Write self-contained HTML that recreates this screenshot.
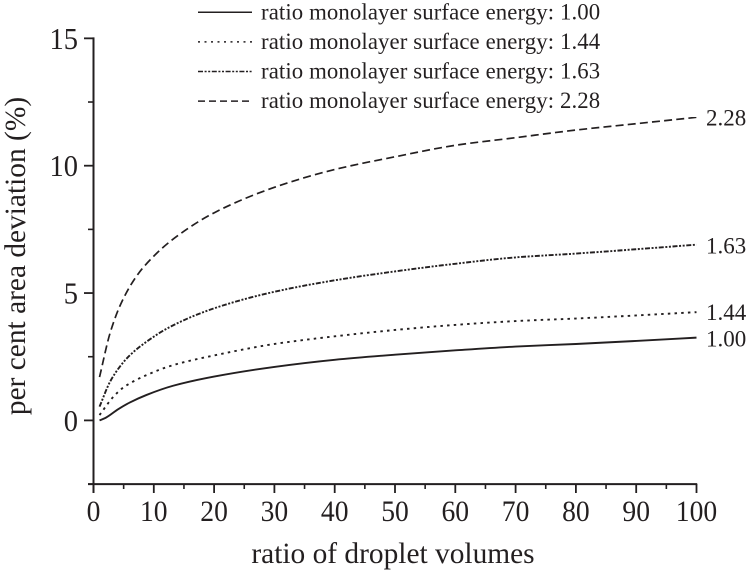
<!DOCTYPE html>
<html>
<head>
<meta charset="utf-8">
<style>
html,body{margin:0;padding:0;background:#fff;}
svg{display:block;}
text{font-family:"Liberation Serif",serif;fill:#231f20;}
</style>
</head>
<body>
<svg id="chart" width="747" height="570" viewBox="0 0 747 570" xmlns="http://www.w3.org/2000/svg"></svg>
<script>
const xTickLabels = [0, 10, 20, 30, 40, 50, 60, 70, 80, 90, 100];
const xMinorTicks = [5, 15, 25, 35, 45, 55, 65, 75, 85, 95];
const yTickLabels = [0, 5, 10, 15];
const yMinorTicks = [-2.5, 2.5, 7.5, 12.5];
const seriesNames = ['1.00', '1.44', '1.63', '2.28'];
const xSeries100 = [1, 2, 4.1, 6, 8.8, 13.2, 20, 30, 40, 50, 60, 70, 80, 90, 100];
const values100 = [0, 0.1, 0.44, 0.7, 1.0, 1.36, 1.72, 2.1, 2.38, 2.58, 2.75, 2.9, 3.0, 3.12, 3.25];
const xSeries144 = [1, 3.3, 5, 8.8, 13.2, 20, 30, 40, 50, 60, 70, 80, 90, 100];
const values144 = [0.21, 0.93, 1.3, 1.78, 2.17, 2.55, 3.0, 3.3, 3.55, 3.75, 3.9, 4.0, 4.12, 4.25];
const xSeries163 = [1, 2.75, 4.4, 6, 8.8, 12.6, 20, 30, 40, 50, 60, 70, 80, 90, 100];
const values163 = [0.54, 1.52, 2.12, 2.55, 3.09, 3.66, 4.4, 5.05, 5.5, 5.85, 6.15, 6.4, 6.55, 6.72, 6.9];
const xSeries228 = [1, 2.75, 4.7, 7.4, 10, 13, 20, 30, 40, 50, 60, 70, 80, 90, 100];
const values228 = [1.7, 3.43, 4.66, 5.75, 6.45, 7.08, 8.15, 9.15, 9.85, 10.35, 10.8, 11.1, 11.4, 11.65, 11.9];

const svg = document.getElementById('chart');
const NS = 'http://www.w3.org/2000/svg';
const ink = '#231f20';
const xScale = v => 93.5 + v * 6.03;
const yScale = v => 420.4 - v * 25.47;

function make(tag, attrs, text) {
  const el = document.createElementNS(NS, tag);
  for (const k in attrs) el.setAttribute(k, attrs[k]);
  if (text !== undefined) el.textContent = text;
  svg.appendChild(el);
  return el;
}
function rule(x1, y1, x2, y2, w) {
  return make('line', {x1, y1, x2, y2, stroke: ink, 'stroke-width': w});
}
// Monotone cubic interpolation with harmonic-mean tangents
function smoothPath(xs, ys) {
  const p = xs.map((x, i) => [xScale(x), yScale(ys[i])]);
  const n = p.length;
  const h = [], s = [];
  for (let i = 0; i < n - 1; i++) {
    h[i] = p[i + 1][0] - p[i][0];
    s[i] = (p[i + 1][1] - p[i][1]) / h[i];
  }
  const m = [s[0]];
  for (let i = 1; i < n - 1; i++) {
    if (s[i - 1] * s[i] <= 0) { m[i] = 0; continue; }
    const w1 = 2 * h[i] + h[i - 1], w2 = h[i] + 2 * h[i - 1];
    m[i] = (w1 + w2) / (w1 / s[i - 1] + w2 / s[i]);
  }
  m[n - 1] = s[n - 2];
  let d = 'M' + p[0][0].toFixed(2) + ' ' + p[0][1].toFixed(2);
  for (let i = 0; i < n - 1; i++) {
    const c = [p[i][0] + h[i] / 3, p[i][1] + m[i] * h[i] / 3,
               p[i + 1][0] - h[i] / 3, p[i + 1][1] - m[i + 1] * h[i] / 3,
               p[i + 1][0], p[i + 1][1]];
    d += 'C' + c.map(v => v.toFixed(2)).join(' ');
  }
  return d;
}

// Axes
const yAxisLine = rule(xScale(0), yScale(15) - 1, xScale(0), 493, 2);


const xAxisLine = rule(88, yScale(-2.5), xScale(100) + 0.7, yScale(-2.5), 2);



xTickLabels.forEach(v => {
  const t = rule(xScale(v), 484, xScale(v), 493, 1.8);
  
  
  const l = make('text', {transform: 'translate(' + xScale(v) + ' 521) scale(0.92 1)', 'text-anchor': 'middle', 'font-size': 30}, String(v));
  
  
});
xMinorTicks.forEach(v => {
  const t = rule(xScale(v), 484, xScale(v), 489, 1.6);
  
  
});
yTickLabels.forEach(v => {
  const t = rule(84, yScale(v), xScale(0), yScale(v), 1.8);
  
  
  const l = make('text', {transform: 'translate(78 ' + (yScale(v) + 10.5) + ') scale(0.92 1)', 'text-anchor': 'end', 'font-size': 31}, String(v));
  
  
});
yMinorTicks.forEach(v => {
  const t = rule(88, yScale(v), xScale(0), yScale(v), 1.6);
  
  
});

// Axis titles
const xTitle = make('text', {x: 393, y: 563, 'text-anchor': 'middle', 'font-size': 29.4}, 'ratio of droplet volumes');


const yTitle = make('text', {x: 0, y: 0, transform: 'translate(25 256) rotate(-90)', 'text-anchor': 'middle', 'font-size': 29.4}, 'per cent area deviation (%)');



// Series
const seriesX = [xSeries100, xSeries144, xSeries163, xSeries228];
const seriesY = [values100, values144, values163, values228];
const dashes = ['none', '2.5 4.2', '5 1.6 2 1.6 2 1.6', '8 4.2'];
const legendDashes = ['none', '2 4.5', '5 1.6 2 1.6 2 1.6', '7 4'];
const swatchEnd = [252, 252, 252, 250];
const widths = [1.9, 1.9, 1.9, 1.7];
const endLabelDy = [9, 8, 9, 8];

seriesNames.forEach((name, i) => {
  const curve = make('path', {
    d: smoothPath(seriesX[i], seriesY[i]), fill: 'none', stroke: ink,
    'stroke-width': widths[i], 'stroke-dasharray': dashes[i]
  });
  
  

  const last = seriesY[i][seriesY[i].length - 1];
  const end = make('text', {x: 706, y: yScale(last) + endLabelDy[i], 'font-size': 23}, name);
  
  

  const ly = 12.3 + i * 29.6;
  const sw = make('line', {
    x1: 198, y1: ly, x2: swatchEnd[i], y2: ly, stroke: ink,
    'stroke-width': 1.5, 'stroke-dasharray': legendDashes[i]
  });
  
  
  const lt = make('text', {x: 261, y: ly + 7, 'font-size': 22.8, 'letter-spacing': '0.1'}, 'ratio monolayer surface energy: ' + name);
  
  
});
</script>
</body>
</html>
